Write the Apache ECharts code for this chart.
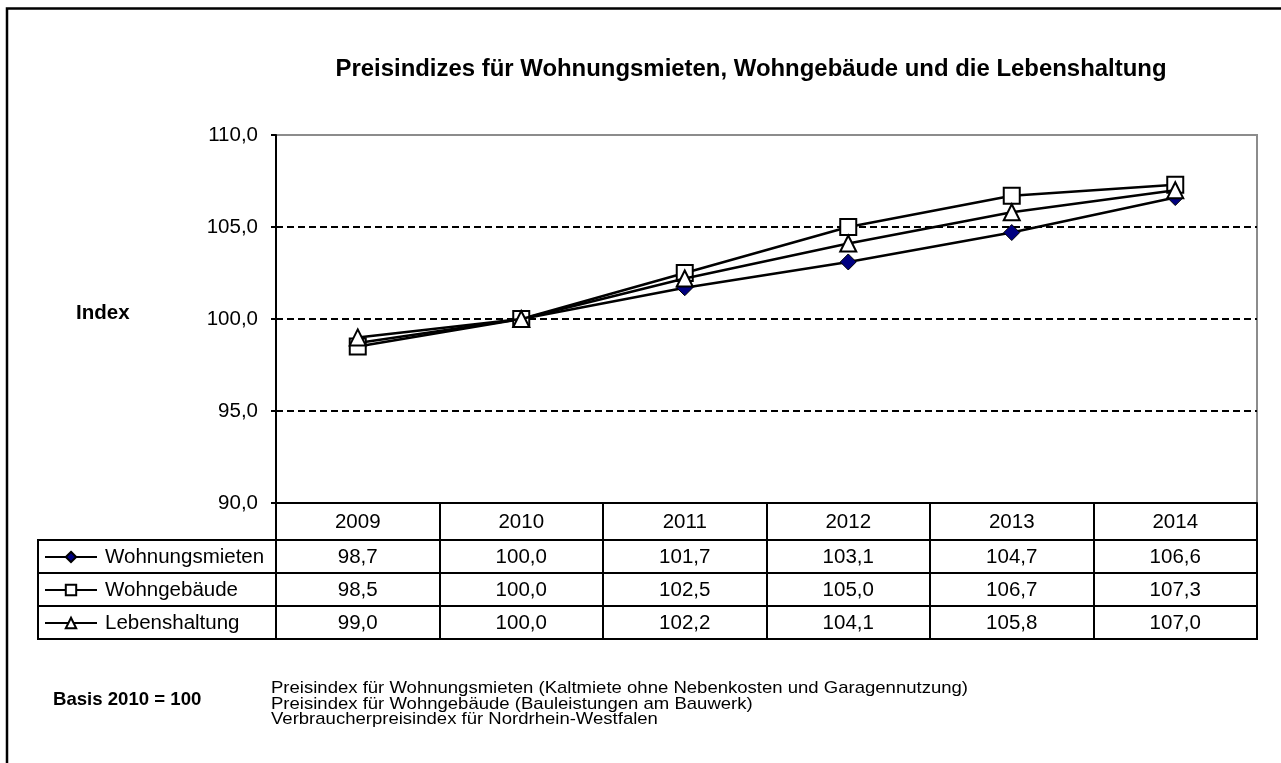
<!DOCTYPE html>
<html>
<head>
<meta charset="utf-8">
<script src="https://cdn.jsdelivr.net/npm/echarts@6/dist/echarts.min.js"></script>
<style>
  html, body { margin: 0; padding: 0; background: #fff; }
  #chart { width: 1281px; height: 763px; }
</style>
</head>
<body>
<div id="chart"></div>
<script>
// ---- data ----
const years = ['2009', '2010', '2011', '2012', '2013', '2014'];
const wohnungsmieten = [98.7, 100.0, 101.7, 103.1, 104.7, 106.6];
const wohngebaeude   = [98.5, 100.0, 102.5, 105.0, 106.7, 107.3];
const lebenshaltung  = [99.0, 100.0, 102.2, 104.1, 105.8, 107.0];
const seriesNames = ['Wohnungsmieten', 'Wohngebäude', 'Lebenshaltung'];
const yMin = 90, yMax = 110, yStep = 5;
const titleText = 'Preisindizes für Wohnungsmieten, Wohngebäude und die Lebenshaltung';
const axisName = 'Index';
const basisText = 'Basis 2010 = 100';
const footnotes = [
  'Preisindex für Wohnungsmieten (Kaltmiete ohne Nebenkosten und Garagennutzung)',
  'Preisindex für Wohngebäude (Bauleistungen am Bauwerk)',
  'Verbraucherpreisindex für Nordrhein-Westfalen'
];

// ---- layout ----
const FONT = '"Liberation Sans", Arial, sans-serif';
const FS = 20.5;
const W = 1281, H = 763;
const PLOT_L = 276, PLOT_R = 1257, PLOT_T = 135, PLOT_B = 503;
const ROW_H = 33;
const HEAD_B = 540;            // bottom of the year row
const TABLE_L = 38;            // left edge of the legend column
const TABLE_B = HEAD_B + 3 * ROW_H;

const fmt = v => v.toFixed(1).replace('.', ',');

const chart = echarts.init(document.getElementById('chart'), null, { renderer: 'canvas' });

const rowValues = [wohnungsmieten, wohngebaeude, lebenshaltung];

// one extra x axis per table row, its labels show that row's values
const valueAxes = rowValues.map((vals, r) => ({
  type: 'category',
  gridIndex: 0,
  position: 'bottom',
  data: years,
  boundaryGap: true,
  axisLine: { show: false },
  axisTick: { show: false },
  splitLine: { show: false },
  axisLabel: {
    show: true,
    interval: 0,
    margin: HEAD_B - PLOT_B + r * ROW_H + 7,
    color: '#000',
    fontFamily: FONT,
    fontSize: FS,
    lineHeight: 20,
    formatter: (v, i) => fmt(vals[i])
  }
}));

// one legend per table row, so each sits exactly in its row
const legends = seriesNames.map((name, r) => ({
  orient: 'horizontal',
  left: 44,
  top: HEAD_B + r * ROW_H + ROW_H / 2 - 10,
  padding: 0,
  itemWidth: 52,
  itemHeight: 13,
  selectedMode: false,
  data: [name],
  textStyle: { fontFamily: FONT, fontSize: FS, color: '#000', lineHeight: 20, padding: [0, 0, 0, 3] }
}));

const tableLines = [];
for (let r = 0; r <= 3; r++) {
  const y = HEAD_B + r * ROW_H;
  tableLines.push({
    type: 'line', silent: true, z: 10,
    shape: { x1: TABLE_L, y1: y, x2: PLOT_R + 1, y2: y },
    style: { stroke: '#000', lineWidth: 2 }
  });
}
tableLines.push({
  type: 'line', silent: true, z: 10,
  shape: { x1: TABLE_L, y1: HEAD_B - 1, x2: TABLE_L, y2: TABLE_B + 1 },
  style: { stroke: '#000', lineWidth: 2 }
});

const markerStyles = [
  { symbol: 'diamond',  size: 16, fill: '#000080', border: '#000', bw: 1 },
  { symbol: 'rect',     size: 16, fill: '#ffffff', border: '#000', bw: 2 },
  { symbol: 'triangle', size: 16, fill: '#ffffff', border: '#000', bw: 2 }
];

const option = {
  animation: false,
  backgroundColor: '#fff',
  legend: legends,
  grid: {
    left: PLOT_L,
    top: PLOT_T,
    width: PLOT_R - PLOT_L,
    height: PLOT_B - PLOT_T,
    show: true,
    borderColor: '#8c8c8c',
    borderWidth: 2,
    backgroundColor: 'transparent'
  },
  xAxis: [{
    type: 'category',
    data: years,
    boundaryGap: true,
    axisLine: { show: true, lineStyle: { color: '#000', width: 2 } },
    axisTick: { show: true, length: TABLE_B - PLOT_B, lineStyle: { color: '#000', width: 2 } },
    axisLabel: {
      show: true, interval: 0, margin: 9,
      color: '#000', fontFamily: FONT, fontSize: FS, lineHeight: 20
    },
    splitLine: { show: false }
  }].concat(valueAxes),
  yAxis: {
    type: 'value',
    min: yMin, max: yMax, interval: yStep,
    axisLine: { show: true, lineStyle: { color: '#000', width: 2 } },
    axisTick: { show: true, length: 5, lineStyle: { color: '#000', width: 2 } },
    axisLabel: {
      margin: 18, color: '#000', fontFamily: FONT, fontSize: FS,
      formatter: v => fmt(v)
    },
    splitLine: {
      show: true, showMinLine: false, showMaxLine: false,
      lineStyle: { color: '#000', width: 2, type: [7, 4] }
    }
  },
  series: rowValues.map((vals, i) => ({
    name: seriesNames[i],
    type: 'line',
    data: vals,
    xAxisIndex: 0,
    symbol: markerStyles[i].symbol,
    symbolSize: markerStyles[i].size,
    showAllSymbol: true,
    z: 3 + i,
    lineStyle: { color: '#000', width: 2.5 },
    itemStyle: {
      color: markerStyles[i].fill,
      borderColor: markerStyles[i].border,
      borderWidth: markerStyles[i].bw
    },
    emphasis: { disabled: true }
  })),
  graphic: [
    {
      type: 'rect', silent: true, z: 20,
      shape: { x: 7, y: 8.5, width: W + 20, height: H + 20 },
      style: { fill: 'none', stroke: '#000', lineWidth: 2.5 }
    },
    {
      type: 'text', silent: true,
      x: 751, y: 70,
      style: {
        text: titleText, fill: '#000', font: 'bold 23px ' + FONT,
        textAlign: 'center', textVerticalAlign: 'middle'
      },
      scaleX: 1.04
    },
    {
      type: 'text', silent: true,
      x: 76, y: 313,
      style: {
        text: axisName, fill: '#000', font: 'bold 20.5px ' + FONT,
        textAlign: 'left', textVerticalAlign: 'middle'
      }
    },
    {
      type: 'text', silent: true,
      x: 53, y: 700,
      style: {
        text: basisText, fill: '#000', font: 'bold 18.6px ' + FONT,
        textAlign: 'left', textVerticalAlign: 'middle'
      }
    },
    {
      type: 'text', silent: true,
      x: 271, y: 681,
      scaleX: 1.09,
      style: {
        text: footnotes.join('\n'), fill: '#000', font: '17px ' + FONT,
        lineHeight: 15.5, textAlign: 'left', textVerticalAlign: 'top'
      }
    }
  ].concat(tableLines)
};

chart.setOption(option);
</script>
</body>
</html>
